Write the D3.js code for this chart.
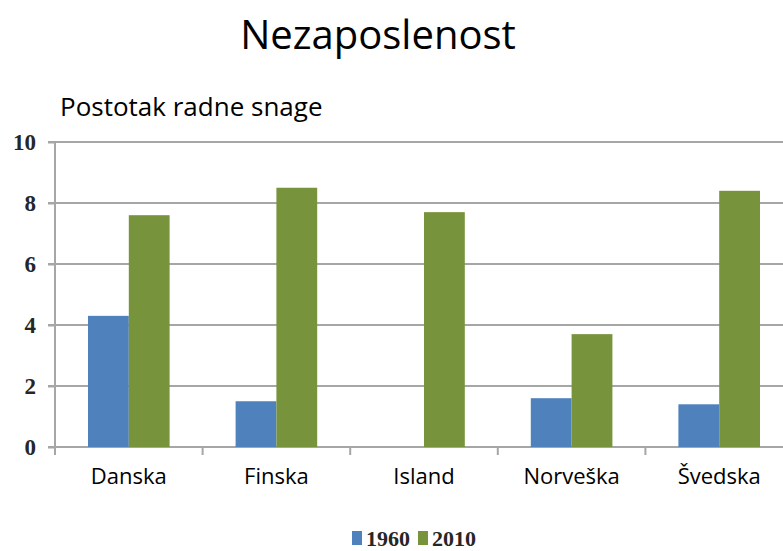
<!DOCTYPE html>
<html>
<head>
<meta charset="utf-8">
<script src="https://cdn.jsdelivr.net/npm/d3@7"></script>
<style>
  body { margin: 0; background: #fff; }
  .chart text { font-family: "Open Sans", "Noto Sans", sans-serif; }
  .chart .num { font-family: "Liberation Serif", "DejaVu Serif", serif; font-weight: bold; }
</style>
</head>
<body>
<svg class="chart"></svg>
<script>
// DATA
var countries = ["Danska", "Finska", "Island", "Norveška", "Švedska"];
var seriesNames = ["1960", "2010"];
var values1960 = [4.3, 1.5, 0, 1.6, 1.4];
var values2010 = [7.6, 8.5, 7.7, 3.7, 8.4];
var yTicks = [0, 2, 4, 6, 8, 10];
var colors = ["#4f81bd", "#77933c"];

var W = 783, H = 551;
var margin = {top: 142, right: -10, bottom: 104, left: 55};
var width = W - margin.left - margin.right,
    height = H - margin.top - margin.bottom;

var svg = d3.select(".chart").attr("width", W).attr("height", H);

// TITLE + SUBTITLE
svg.append("text")
    .attr("x", 378).attr("y", 49)
    .attr("text-anchor", "middle")
    .style("font-size", "40px")
    .attr("fill", "#000")
    .text("Nezaposlenost");

svg.append("text")
    .attr("x", 60).attr("y", 116)
    .style("font-size", "26px")
    .attr("fill", "#000")
    .text("Postotak radne snage");

var g = svg.append("g")
    .attr("transform", "translate(" + margin.left + "," + margin.top + ")");

// SCALES
var x0 = d3.scaleBand().domain(countries).range([0, width]);
var bw = x0.bandwidth();
var x1 = d3.scaleBand().domain(seriesNames).range([33, bw - 33]);
var y = d3.scaleLinear().domain([0, 10]).range([height, 0]);

// GRIDLINES
g.selectAll(".grid").data(yTicks.filter(function(d) { return d > 0; }))
  .enter().append("line")
    .attr("class", "grid")
    .attr("x1", -7).attr("x2", width)
    .attr("y1", function(d) { return y(d); })
    .attr("y2", function(d) { return y(d); })
    .attr("stroke", "#a6a6a6")
    .attr("stroke-width", 2);

// Y AXIS
var yAxis = g.append("g")
    .call(d3.axisLeft(y).tickValues(yTicks).tickSize(7).tickPadding(12));
yAxis.select(".domain").attr("stroke", "#a6a6a6").attr("stroke-width", 2)
    .attr("d", "M0," + y(10) + "V" + (height + 8));
yAxis.selectAll(".tick line").attr("stroke", "#a6a6a6").attr("stroke-width", 2);
yAxis.selectAll(".tick text")
    .attr("class", "num")
    .style("font-size", "23px")
    .attr("fill", "#262626");

// X AXIS
var xAxis = g.append("g").attr("transform", "translate(0," + height + ")");
xAxis.append("line")
    .attr("x1", -7).attr("x2", width)
    .attr("stroke", "#a6a6a6").attr("stroke-width", 2);
xAxis.selectAll(".xtick").data(countries.slice(1))
  .enter().append("line")
    .attr("x1", function(d) { return x0(d); })
    .attr("x2", function(d) { return x0(d); })
    .attr("y1", 0).attr("y2", 8)
    .attr("stroke", "#a6a6a6").attr("stroke-width", 2);
xAxis.selectAll(".xlabel").data(countries)
  .enter().append("text")
    .attr("x", function(d) { return x0(d) + bw / 2; })
    .attr("y", 37)
    .attr("text-anchor", "middle")
    .style("font-size", "22px")
    .attr("fill", "#000")
    .text(function(d) { return d; });

// BARS
var rows = countries.map(function(c, i) {
  return {country: c, vals: [values1960[i], values2010[i]]};
});

var groups = g.selectAll(".cat").data(rows)
  .enter().append("g")
    .attr("transform", function(d) { return "translate(" + x0(d.country) + ",0)"; });

groups.selectAll("rect")
  .data(function(d) { return d.vals.map(function(v, j) { return {key: seriesNames[j], value: v, j: j}; }); })
  .enter().append("rect")
    .attr("x", function(d) { return x1(d.key); })
    .attr("width", x1.bandwidth())
    .attr("y", function(d) { return y(d.value); })
    .attr("height", function(d) { return height - y(d.value); })
    .attr("fill", function(d) { return colors[d.j]; });

// LEGEND
var legend = svg.append("g").attr("transform", "translate(352,531)");
var li = legend.selectAll(".li").data(seriesNames)
  .enter().append("g")
    .attr("transform", function(d, i) { return "translate(" + (i * 66) + ",0)"; });
li.append("rect")
    .attr("width", 10).attr("height", 14)
    .attr("fill", function(d, i) { return colors[i]; });
li.append("text")
    .attr("class", "num")
    .attr("x", 14).attr("y", 15)
    .style("font-size", "22px")
    .attr("fill", "#262626")
    .text(function(d) { return d; });
</script>
</body>
</html>
